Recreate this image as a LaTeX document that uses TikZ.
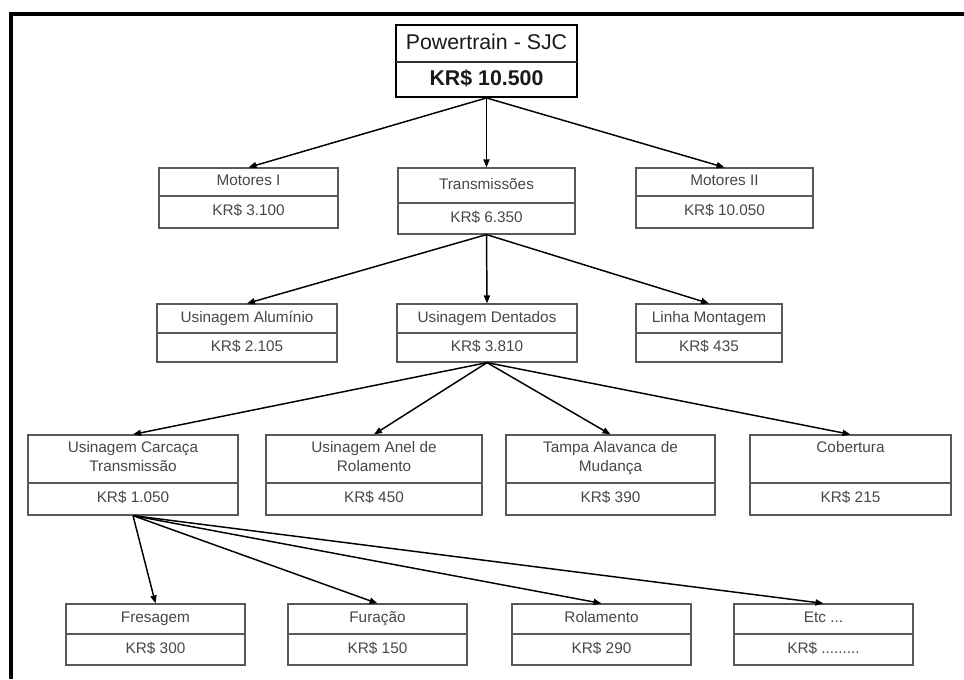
\documentclass[tikz,border=0pt]{standalone}
\usepackage{fontspec}
\setmainfont{Liberation Sans}
\usetikzlibrary{arrows.meta,fit}

% #1 name, #2 left, #3 right, #4 top, #5 divider, #6 bottom, #7 title, #8 value
\newcommand\orgbox[8]{%
  \node[cell, fit={(#2,#4) (#3,#6)}] (#1) {};
  \draw[celldiv] (#2,#5) -- (#3,#5);
  \node[lbl] (#1-t) at ({(#2+#3)/2},{(#4+#5)/2}) {#7};
  \node[lbl] (#1-v) at ({(#2+#3)/2},{(#5+#6)/2}) {#8};
}

\begin{document}
\begin{tikzpicture}[x=0.75pt,y=-0.75pt,
  cell/.style={draw=black!65,line width=0.9pt,inner sep=0pt},
  celldiv/.style={draw=black!65,line width=0.9pt},
  topcell/.style={draw=black,line width=1.4pt,inner sep=0pt},
  lbl/.style={font=\fontsize{11.5}{14}\selectfont,text=black!72,align=center,inner sep=0pt,
    execute at begin node=\strut, execute at end node=\strut},
  toplbl/.style={font=\fontsize{16}{19}\selectfont,text=black!90,inner sep=0pt,
    execute at begin node=\strut},
  link/.style={line width=1.1pt,-{Triangle[length=6pt,width=4.6pt]}},
  frame/.style={line width=3pt,line join=miter}]

\useasboundingbox (0,0) rectangle (964,679);

% outer frame (top and left edges)
\draw[frame] (11,679) -- (11,13.5) -- (964,13.5);

% root
\node[topcell, fit={(396,25) (577,97)}] (root) {};
\draw[draw=black!80,line width=1pt] (396,62) -- (577,62);
\node[toplbl] (root-t) at (486.5,44) {Powertrain - SJC};
\node[toplbl,font=\fontsize{16}{19}\selectfont\bfseries] (root-v) at (486.5,80) {KR\$ 10.500};

% level 2
\orgbox{mot1}{159}{338}{168}{196}{228}{Motores I}{KR\$ 3.100}
\orgbox{trans}{398}{575}{168}{203}{234}{Transmissões}{KR\$ 6.350}
\orgbox{mot2}{636}{813}{168}{196}{228}{Motores II}{KR\$ 10.050}

% level 3
\orgbox{alu}{157}{337}{304}{333}{362}{Usinagem Alumínio}{KR\$ 2.105}
\orgbox{dent}{397}{577}{304}{333}{362}{Usinagem Dentados}{KR\$ 3.810}
\orgbox{linha}{636}{782}{304}{333}{362}{Linha Montagem}{KR\$ 435}

% level 4
\orgbox{carc}{28}{238}{435}{483}{515}{Usinagem Carcaça\\Transmissão}{KR\$ 1.050}
\orgbox{anel}{266}{482}{435}{483}{515}{Usinagem Anel de\\Rolamento}{KR\$ 450}
\orgbox{tampa}{506}{715}{435}{483}{515}{Tampa Alavanca de\\Mudança}{KR\$ 390}
\orgbox{cob}{750}{951}{435}{483}{515}{Cobertura\\}{KR\$ 215}

% level 5
\orgbox{fres}{66}{245}{604}{634}{665}{Fresagem}{KR\$ 300}
\orgbox{fura}{288}{467}{604}{634}{665}{Furação}{KR\$ 150}
\orgbox{rol}{512}{691}{604}{634}{665}{Rolamento}{KR\$ 290}
\orgbox{etc}{734}{913}{604}{634}{665}{Etc ...}{KR\$ .........}

% connectors
\foreach \c in {mot1,trans,mot2} \draw[link] (root.south) -- (\c.north);
\foreach \c in {alu,dent,linha} \draw[link] (trans.south) -- (\c.north);
\foreach \c in {carc,anel,tampa,cob} \draw[link] (dent.south) -- (\c.north);
\foreach \c in {fres,fura,rol,etc} \draw[link] (carc.south) -- (\c.north);

\end{tikzpicture}
\end{document}
